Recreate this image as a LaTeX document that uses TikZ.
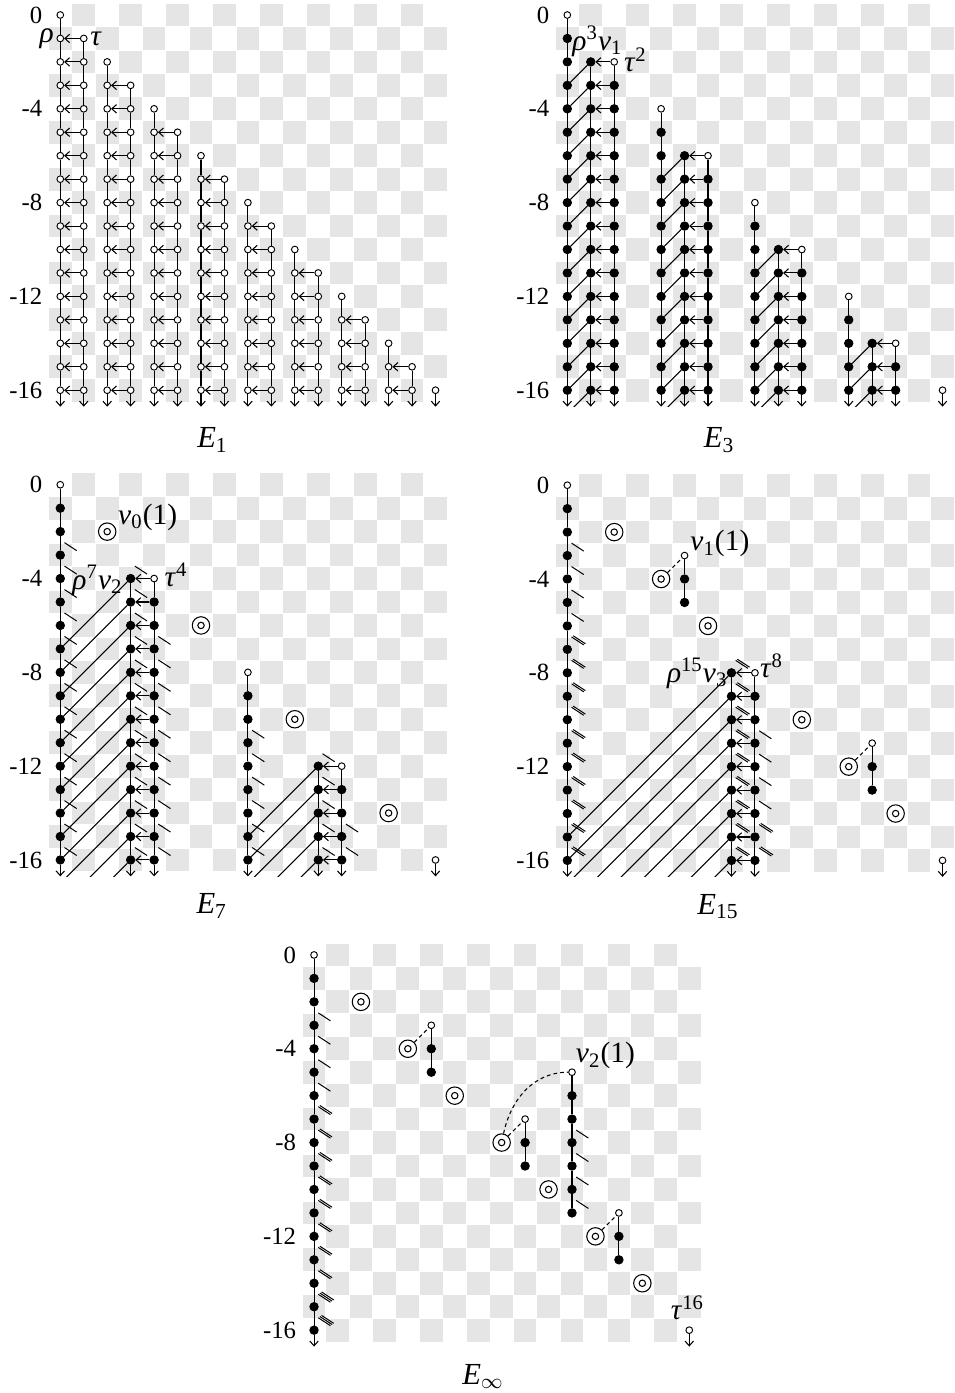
\documentclass[tikz,border=0pt]{standalone}
\usepackage{fontspec}
\setmainfont{Liberation Serif}
\usetikzlibrary{arrows.meta}
\tikzset{
  op/.style={circle,draw,fill=white,inner sep=0pt,minimum size=0.1cm,line width=0.4pt},
  fd/.style={circle,draw,fill=black,inner sep=0pt,minimum size=0.125cm,line width=0.4pt},
  dc/.style={circle,draw,fill=white,inner sep=0pt,minimum size=0.26cm,line width=0.45pt,
    path picture={\draw[line width=0.45pt] (path picture bounding box.center) circle[radius=0.048cm];}},
  ln/.style={line width=0.45pt},
  arr/.style={line width=0.45pt,-{Straight Barb[length=2pt,width=3.6pt]}},
  dashln/.style={line width=0.45pt,dash pattern=on 1.6pt off 1.3pt},
  tk/.style={line width=0.42pt},
  axl/.style={anchor=east,inner sep=0pt,font=\fontsize{10.5}{12}\selectfont},
  lab/.style={inner sep=0pt,anchor=base west,font=\fontsize{12.5}{14}\selectfont},
  captn/.style={inner sep=0pt,anchor=base west,font=\fontsize{13}{15}\selectfont},
}
\newcommand\chk{%
  \foreach \i in {0,...,16}{\foreach \j in {0,...,16}{%
    \pgfmathtruncatemacro\sv{mod(\i+\j,2)}%
    \ifnum\sv=1 \fill[black!10] (\i-0.485,-\j-0.485) rectangle (\i+0.485,-\j+0.485);\fi}}}
\newcommand\axlabels{%
  \node[axl] at (-0.75,0) {0};
  \foreach \j in {4,8,12,16}{\node[axl] at (-0.75,-\j) {-\j};}}
% prefix, column, open row (-1 none), first filled, last, arrow
\newcommand\colm[6]{%
  \ifnum#3>-1 \node[op] (#1-#2-#3) at (#2,-#3) {};\edef\tp{#3}\else\edef\tp{\the\numexpr#4\relax}\fi
  \foreach \rw in {#4,...,#5}{\node[fd] (#1-#2-\rw) at (#2,-\rw) {};}%
  \pgfmathtruncatemacro\tq{\tp+1}%
  \ifnum\tq>#5\relax\else
    \foreach \rw in {\tq,...,#5}{\pgfmathtruncatemacro\rp{\rw-1}\draw[ln] (#1-#2-\rp) -- (#1-#2-\rw);}%
  \fi
  \ifnum#6=1 \coordinate (#1-#2-x) at (#2,-16.7); \draw[arr] (#1-#2-#5) -- (#1-#2-x);\fi}
% prefix, col a, col b, from row, to row
\newcommand\diags[5]{%
  \foreach \rw in {#4,...,#5}{%
    \pgfmathtruncatemacro\rt{\rw-(#3)+(#2)}%
    \ifnum\rw>16 \coordinate (#1-#2-\rw) at (#2,-\rw);\fi
    \draw[ln] (#1-#2-\rw) -- (#1-#3-\rt);}}
% col, from, to, multiplicity
\newcommand\ticks[4]{%
  \foreach \rw in {#2,...,#3}{\foreach \m in {1,...,#4}{%
    \draw[tk] (#1+0.11+0.07*\m,-\rw+0.48+0.05*\m) -- ++(0.52,-0.34);}}}
\newcommand\lone[1]{\node[op] (#1-16-16) at (16,-16) {}; \coordinate (#1-16-x) at (16,-16.7); \draw[arr] (#1-16-16) -- (#1-16-x);}
\newcommand\clipbox{\clip (-0.6,-16.7) rectangle (16.6,0.6);}
\begin{document}
\begin{tikzpicture}[x=0.35cm,y=0.35cm]
\useasboundingbox (-2.571,0.64) rectangle (38.11,-58.76);
\fill[white] (-2.571,0.64) rectangle (38.11,-58.76);
% ---------------- E1
\begin{scope}
\chk\axlabels
\foreach \cl in {0,...,16}{\foreach \rw in {\cl,...,16}{\node[op] (a-\cl-\rw) at (\cl,-\rw) {};}}
\foreach \cl in {0,...,15}{\pgfmathtruncatemacro\sv{\cl+1}%
  \foreach \rw in {\sv,...,16}{\pgfmathtruncatemacro\rp{\rw-1}\draw[ln] (a-\cl-\rp) -- (a-\cl-\rw);}}
\foreach \cl in {0,...,16}{\coordinate (a-\cl-x) at (\cl,-16.7); \draw[arr] (a-\cl-16) -- (a-\cl-x);}
\foreach \k in {0,...,7}{\pgfmathtruncatemacro\ca{2*\k}\pgfmathtruncatemacro\cb{2*\k+1}%
  \foreach \rw in {\cb,...,16}{\draw[arr] (a-\cb-\rw) -- (a-\ca-\rw);}}
\node[lab,anchor=east] at ([xshift=-1pt]a-0-1.west) {\textit{ρ}};
\node[lab,anchor=west] at ([xshift=1pt]a-1-1.east) {\textit{τ}};
\node[captn] at (5.82,-18.45) {\textit{E}\textsubscript{1}};
\end{scope}
% ---------------- E3
\begin{scope}[shift={(21.62,0)}]
\chk\axlabels
\foreach \k in {0,...,3}{%
  \pgfmathtruncatemacro\ca{4*\k}\pgfmathtruncatemacro\cb{4*\k+1}\pgfmathtruncatemacro\cc{4*\k+2}%
  \pgfmathtruncatemacro\ra{4*\k+1}\pgfmathtruncatemacro\rb{4*\k+2}\pgfmathtruncatemacro\rc{4*\k+3}%
  \colm{b}{\ca}{\ca}{\ra}{16}{1}
  \colm{b}{\cb}{-1}{\rb}{16}{1}
  \colm{b}{\cc}{\rb}{\rc}{16}{1}
  \foreach \rw in {\rb,...,16}{\draw[arr] (b-\cc-\rw) -- (b-\cb-\rw);}
  \begin{scope}\clipbox \diags{b}{\ca}{\cb}{\rc}{17}\end{scope}
}
\lone{b}
\node[lab] at (0.2,-1.5) {\textit{ρ}\textsuperscript{3}\textit{v}\textsubscript{1}};
\node[lab] at (2.4,-2.42) {\textit{τ}\textsuperscript{2}};
\node[captn] at (5.8,-18.45) {\textit{E}\textsubscript{3}};
\end{scope}
% ---------------- E7
\begin{scope}[shift={(0,-20.03)}]
\chk\axlabels
\colm{c}{0}{0}{1}{16}{1}
\node[dc] (c-2-2) at (2,-2) {};
\colm{c}{3}{-1}{4}{16}{1}
\colm{c}{4}{4}{5}{16}{1}
\foreach \rw in {4,...,16}{\draw[arr] (c-4-\rw) -- (c-3-\rw);}
\node[dc] (c-6-6) at (6,-6) {};
\colm{c}{8}{8}{9}{16}{1}
\node[dc] (c-10-10) at (10,-10) {};
\colm{c}{11}{-1}{12}{16}{1}
\colm{c}{12}{12}{13}{16}{1}
\foreach \rw in {12,...,16}{\draw[arr] (c-12-\rw) -- (c-11-\rw);}
\node[dc] (c-14-14) at (14,-14) {};
\lone{c}
\begin{scope}\clipbox \diags{c}{0}{3}{7}{19} \diags{c}{8}{11}{15}{19}\end{scope}
\ticks{0}{3}{16}{1}\ticks{3}{4}{16}{1}\ticks{4}{7}{16}{1}
\ticks{8}{11}{16}{1}\ticks{11}{12}{16}{1}\ticks{12}{15}{16}{1}
\node[lab] at (2.45,-1.7) {\textit{v}\textsubscript{0}(1)};
\node[lab] at (0.5,-4.45) {\textit{ρ}\textsuperscript{7}\textit{v}\textsubscript{2}};
\node[lab] at (4.43,-4.35) {\textit{τ}\textsuperscript{4}};
\node[captn] at (5.79,-18.3) {\textit{E}\textsubscript{7}};
\end{scope}
% ---------------- E15
\begin{scope}[shift={(21.62,-20.05)}]
\chk\axlabels
\colm{d}{0}{0}{1}{16}{1}
\node[dc] (d-2-2) at (2,-2) {};
\node[dc] (d-4-4) at (4,-4) {};
\colm{d}{5}{3}{4}{5}{0}
\draw[dashln] (d-4-4) -- (d-5-3);
\node[dc] (d-6-6) at (6,-6) {};
\colm{d}{7}{-1}{8}{16}{1}
\colm{d}{8}{8}{9}{16}{1}
\foreach \rw in {8,...,16}{\draw[arr] (d-8-\rw) -- (d-7-\rw);}
\node[dc] (d-10-10) at (10,-10) {};
\node[dc] (d-12-12) at (12,-12) {};
\colm{d}{13}{11}{12}{13}{0}
\draw[dashln] (d-12-12) -- (d-13-11);
\node[dc] (d-14-14) at (14,-14) {};
\lone{d}
\begin{scope}\clipbox \diags{d}{0}{7}{15}{23}\end{scope}
\ticks{0}{3}{6}{1}\ticks{0}{7}{16}{2}\ticks{7}{8}{16}{2}\ticks{8}{11}{14}{1}\ticks{8}{15}{16}{2}
\node[lab] at (5.23,-2.8) {\textit{v}\textsubscript{1}(1)};
\node[lab,anchor=base east] at (6.85,-8.4) {\textit{ρ}\textsuperscript{15}\textit{v}\textsubscript{3}};
\node[lab] at (8.2,-8.2) {\textit{τ}\textsuperscript{8}};
\node[captn] at (5.53,-18.3) {\textit{E}\textsubscript{15}};
\end{scope}
% ---------------- Einf
\begin{scope}[shift={(10.82,-40.08)}]
\chk\axlabels
\colm{e}{0}{0}{1}{16}{1}
\foreach \k in {2,4,...,14}{\node[dc] (e-\k-\k) at (\k,-\k) {};}
\colm{e}{5}{3}{4}{5}{0}
\draw[dashln] (e-4-4) -- (e-5-3);
\colm{e}{9}{7}{8}{9}{0}
\draw[dashln] (e-8-8) -- (e-9-7);
\colm{e}{11}{5}{6}{11}{0}
\draw[dashln] (e-8-8) to[out=78,in=180] (e-11-5);
\colm{e}{13}{11}{12}{13}{0}
\draw[dashln] (e-12-12) -- (e-13-11);
\lone{e}
\ticks{0}{3}{6}{1}\ticks{0}{7}{14}{2}\ticks{0}{15}{16}{3}\ticks{11}{8}{11}{1}
\node[lab] at (11.15,-4.6) {\textit{v}\textsubscript{2}(1)};
\node[lab] at (15.2,-15.55) {\textit{τ}\textsuperscript{16}};
\node[captn] at (6.3,-18.3) {\textit{E}\textsubscript{$\infty$}};
\end{scope}
\end{tikzpicture}
\end{document}
